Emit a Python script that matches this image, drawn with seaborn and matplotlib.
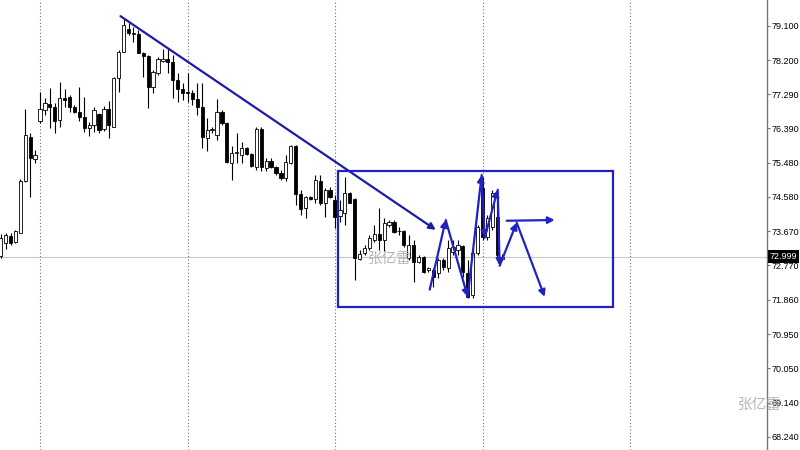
import numpy as np
import pandas as pd
import matplotlib
matplotlib.use('Agg')
import matplotlib.pyplot as plt
import matplotlib.transforms as mtransforms
import seaborn as sns

# OHLC (one bar per candle, left to right)
opens = [73.02, 73.37, 73.55, 73.39, 73.63, 75.01, 76.17, 75.59, 76.59, 76.88,
         77.04, 76.96, 76.62, 77.20, 77.22, 76.96, 76.83, 76.70, 76.41, 76.48,
         76.78, 76.38, 76.91, 76.43, 77.73, 78.41, 79.02, 78.89, 78.89, 78.39,
         78.31, 77.49, 77.86, 78.18, 78.23, 78.15, 77.67, 77.44, 77.36, 77.33,
         77.17, 76.96, 76.14, 76.35, 76.22, 76.83, 76.54, 75.48, 75.74, 75.69,
         75.88, 75.72, 75.38, 76.38, 75.35, 75.53, 75.38, 75.22, 75.08, 75.48,
         75.93, 74.66, 74.29, 74.58, 74.53, 75.01, 74.42, 74.77, 74.50, 74.08,
         74.16, 74.69, 74.53, 72.94, 73.10, 73.24, 73.45, 73.61, 73.45, 73.84,
         73.92, 73.68, 73.68, 72.97, 73.31, 72.87, 73.00, 72.65, 72.65, 72.57,
         72.92, 72.71, 73.13, 73.18, 73.29, 72.57, 71.99, 73.10, 74.82, 73.53,
         73.79, 74.05, 72.94]
highs = [73.61, 73.63, 73.63, 73.71, 75.06, 76.91, 76.27, 75.82, 77.36, 77.20,
         77.46, 77.07, 77.62, 77.44, 77.28, 77.01, 77.49, 77.22, 76.56, 76.96,
         76.80, 76.99, 77.12, 77.75, 78.47, 79.31, 79.18, 79.07, 78.99, 78.41,
         78.33, 77.94, 78.28, 78.49, 78.49, 78.33, 77.86, 77.59, 77.86, 77.41,
         77.59, 77.59, 76.67, 76.43, 77.17, 76.88, 76.56, 75.93, 76.27, 76.04,
         75.90, 75.75, 76.43, 76.43, 75.61, 75.61, 75.40, 75.30, 75.69, 75.96,
         75.96, 74.77, 74.61, 74.61, 75.16, 75.16, 74.82, 74.85, 74.64, 74.50,
         75.11, 74.71, 74.56, 73.18, 73.31, 73.58, 73.84, 74.29, 74.03, 73.97,
         73.97, 73.79, 73.71, 73.58, 73.45, 73.05, 73.02, 72.73, 72.71, 72.97,
         72.97, 73.45, 73.45, 73.45, 73.31, 72.92, 73.18, 73.84, 75.11, 74.11,
         74.77, 74.42, 73.08]
lows = [72.97, 73.21, 73.31, 73.37, 73.63, 74.98, 74.58, 75.48, 76.54, 76.75,
        76.41, 76.27, 76.43, 76.96, 76.83, 76.80, 76.59, 76.30, 76.19, 76.30,
        76.27, 76.33, 76.14, 76.43, 77.36, 78.41, 78.86, 78.68, 78.39, 77.75,
        76.93, 77.33, 77.81, 78.15, 77.86, 77.20, 77.09, 77.15, 77.09, 77.01,
        76.75, 75.88, 75.80, 76.27, 76.09, 76.48, 75.48, 75.03, 75.48, 75.48,
        75.69, 75.38, 75.30, 75.27, 75.27, 75.35, 75.16, 75.03, 75.01, 75.45,
        74.37, 74.11, 74.03, 74.50, 74.42, 74.37, 74.05, 74.56, 73.76, 73.92,
        73.84, 74.42, 72.39, 72.92, 73.05, 73.18, 73.39, 73.18, 73.16, 73.79,
        73.63, 73.58, 73.26, 72.92, 72.34, 72.84, 72.57, 72.60, 72.20, 72.44,
        72.65, 72.60, 73.05, 73.05, 72.47, 71.91, 71.91, 73.05, 73.45, 73.45,
        73.71, 72.97, 72.90]
closes = [73.50, 73.58, 73.37, 73.68, 75.01, 76.22, 75.61, 75.69, 76.91, 77.07,
          76.96, 76.59, 77.20, 77.15, 76.96, 76.83, 76.70, 76.41, 76.48, 76.88,
          76.35, 76.91, 76.48, 77.73, 78.41, 79.13, 78.92, 78.92, 78.39, 78.31,
          77.49, 77.88, 78.23, 78.23, 78.15, 77.67, 77.44, 77.33, 77.33, 77.17,
          76.96, 76.17, 76.35, 76.36, 76.83, 76.54, 75.51, 75.75, 75.76, 75.88,
          75.72, 75.40, 76.38, 75.38, 75.53, 75.38, 75.22, 75.08, 75.51, 75.93,
          74.66, 74.27, 74.58, 74.53, 75.03, 74.42, 74.77, 74.58, 74.05, 74.24,
          74.69, 74.42, 72.97, 73.08, 73.24, 73.50, 73.61, 73.45, 73.90, 73.92,
          73.66, 73.67, 73.31, 73.31, 72.87, 73.00, 72.60, 72.71, 72.47, 72.92,
          72.73, 73.24, 73.26, 73.31, 72.60, 71.94, 73.10, 73.79, 73.53, 74.03,
          74.69, 73.05, 73.00]

price_ticks = [79.100, 78.200, 77.290, 76.390, 75.480, 74.580, 73.670,
               72.770, 71.860, 70.950, 70.050, 69.140, 68.240]
last_price = 72.999
grid_bars = [8, 38, 68, 98, 128]

# hand-drawn objects (bar index, price)
trend_x = [24.37, 88.48]
trend_y = [79.36, 73.71]
box_x = [68.56, 124.45]
box_y = [71.68, 75.27]
zig_x = [87.26, 90.51, 94.98, 97.82, 98.43, 101.08, 101.48, 104.94, 110.63]
zig_y = [72.13, 73.97, 71.94, 75.16, 73.50, 74.77, 72.76, 73.90, 71.94]
flat_x = [102.91, 112.67]
flat_y = [73.95, 73.97]

sns.set_theme(style='white')
plt.rcParams['font.family'] = ['Liberation Sans', 'DejaVu Sans']

df = pd.DataFrame({'open': opens, 'high': highs, 'low': lows, 'close': closes})
df['bar'] = np.arange(len(df))
up = df['close'] >= df['open']

fig = plt.figure(figsize=(8, 4.5), dpi=100)
ax = fig.add_axes([0, 0, 767 / 800, 1])

# grid + bid line
for g in grid_bars:
    ax.axvline(g, color='#707070', lw=0.8, ls=(0, (1, 2)), zorder=1)
ax.axhline(last_price, color='#c8c8c8', lw=0.8, zorder=1)

# candles
ax.vlines(df['bar'], df['low'], df['high'], color='black', lw=0.8, zorder=2)
ax.bar(df['bar'][up], (df['close'] - df['open'])[up].clip(lower=0.02),
       bottom=df['open'][up], width=0.66, color='white', edgecolor='black',
       linewidth=0.6, zorder=3)
ax.bar(df['bar'][~up], (df['open'] - df['close'])[~up].clip(lower=0.02),
       bottom=df['close'][~up], width=0.66, color='black', edgecolor='black',
       linewidth=0.6, zorder=3)

navy = '#1c1ca6'
blue = '#2222c4'


def arrow(x0, y0, x1, y1, col):
    ax.annotate('', xy=(x1, y1), xytext=(x0, y0), zorder=5,
                arrowprops=dict(arrowstyle='-|>,head_length=0.55,head_width=0.28',
                                color=col, lw=1.6, shrinkA=0, shrinkB=0,
                                mutation_scale=7))


arrow(trend_x[0], trend_y[0], trend_x[1], trend_y[1], navy)
for i in range(len(zig_x) - 1):
    arrow(zig_x[i], zig_y[i], zig_x[i + 1], zig_y[i + 1], blue)
arrow(flat_x[0], flat_y[0], flat_x[1], flat_y[1], blue)
ax.add_patch(plt.Rectangle((box_x[0], box_y[0]), box_x[1] - box_x[0],
                           box_y[1] - box_y[0], fill=False, ec=blue, lw=1.6,
                           zorder=5))

ax.set_xlim(-0.136, 155.85)
ax.set_ylim(67.888, 79.7875)

for s in ['left', 'top', 'bottom']:
    ax.spines[s].set_visible(False)
ax.spines['right'].set_color('#777777')
ax.spines['right'].set_linewidth(1)
ax.set_xticks([])
ax.set_yticks(price_ticks)
ax.set_yticklabels([f'{v:.3f}' for v in price_ticks])
ax.tick_params(axis='y', left=False, right=True, labelleft=False,
               labelright=True, length=2, width=0.8, color='#777777',
               labelsize=6.5, pad=1.5, labelcolor='black')

trans = mtransforms.blended_transform_factory(ax.transAxes, ax.transData)
ax.text(1.0 + 3 / 767, last_price, f'{last_price:.3f}', transform=trans,
        ha='left', va='center', color='white', fontsize=6.5, clip_on=False,
        bbox=dict(boxstyle='square,pad=0.2', fc='black', ec='none'), zorder=6)

# watermark
for wx, wy in [(368, 259), (738, 405)]:
    fig.text(wx / 800, 1 - wy / 450, '张亿雷', fontsize=10.5, color='#a8a8a8',
             alpha=0.85, va='center', ha='left',
             family=['Noto Sans CJK SC', 'DejaVu Sans'])

fig.savefig('out.png', dpi=100)
